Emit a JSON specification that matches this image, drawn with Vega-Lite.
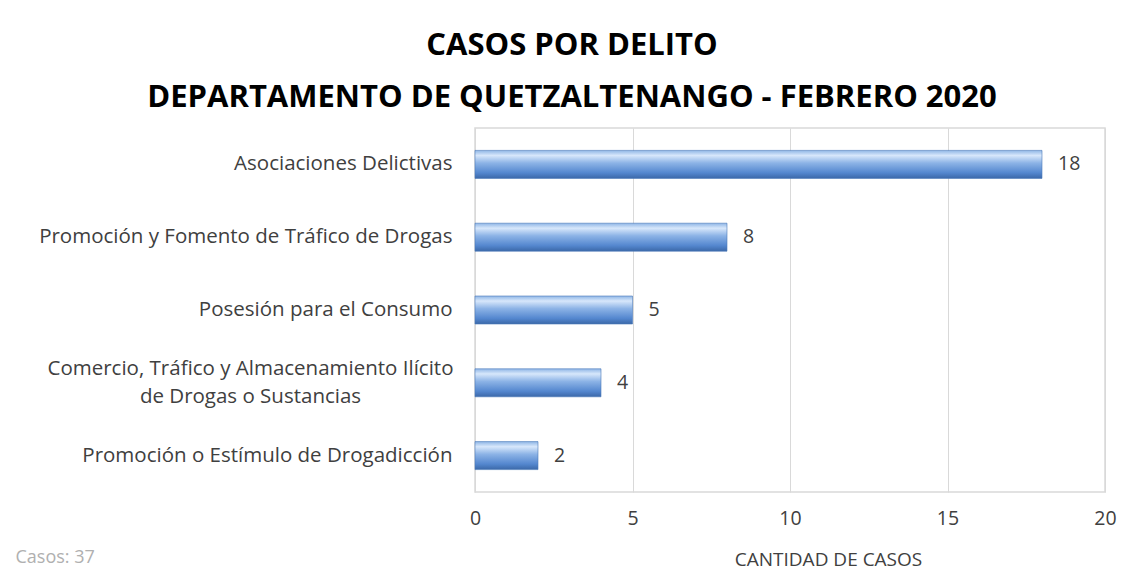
{
  "$schema": "https://vega.github.io/schema/vega-lite/v6.json",
  "autosize": {"type": "none"},
  "width": 630,
  "height": 364,
  "padding": {"left": 475, "top": 128, "right": 31, "bottom": 78},
  "background": "white",
  "title": {
    "text": ["CASOS POR DELITO", "DEPARTAMENTO  DE QUETZALTENANGO  - FEBRERO  2020"],
    "font": "Open Sans",
    "fontSize": 31,
    "fontWeight": "bold",
    "color": "#000000",
    "anchor": "middle",
    "frame": "group",
    "dx": -218,
    "lineHeight": 52,
    "offset": 14
  },
  "data": {
    "values": [
      {"delito": "Asociaciones Delictivas", "casos": 18},
      {"delito": "Promoción y Fomento de Tráfico de Drogas", "casos": 8},
      {"delito": "Posesión para el Consumo", "casos": 5},
      {"delito": "Comercio, Tráfico y Almacenamiento Ilícito de Drogas o Sustancias", "casos": 4},
      {"delito": "Promoción o Estímulo de Drogadicción", "casos": 2}
    ]
  },
  "encoding": {
    "y": {
      "field": "delito",
      "type": "nominal",
      "sort": null,
      "axis": {
        "title": "Casos: 37",
        "titleAngle": 0,
        "titleX": -460,
        "titleY": 429,
        "titleAlign": "left",
        "titleBaseline": "middle",
        "titleFont": "Open Sans",
        "titleFontSize": 18,
        "titleFontWeight": "normal",
        "titleColor": "#b0b0b0",
        "domain": false,
        "ticks": false,
        "labelFont": "Open Sans",
        "labelFontSize": 20.5,
        "labelColor": "#404040",
        "labelLimit": 600,
        "labelLineHeight": 28,
        "labelExpr": "datum.value == 'Comercio, Tráfico y Almacenamiento Ilícito de Drogas o Sustancias' ? ['Comercio, Tráfico y Almacenamiento Ilícito', 'de Drogas o Sustancias'] : datum.value",
        "labelAlign": {"condition": {"test": "datum.value == 'Comercio, Tráfico y Almacenamiento Ilícito de Drogas o Sustancias'", "value": "center"}, "value": "right"},
        "labelPadding": {"condition": {"test": "datum.value == 'Comercio, Tráfico y Almacenamiento Ilícito de Drogas o Sustancias'", "value": 225}, "value": 23},
        "labelOffset": {"condition": {"test": "datum.value == 'Comercio, Tráfico y Almacenamiento Ilícito de Drogas o Sustancias'", "value": -14}, "value": 0}
      }
    },
    "x": {
      "field": "casos",
      "type": "quantitative",
      "scale": {"domain": [0, 20]},
      "axis": {
        "values": [0, 5, 10, 15, 20],
        "title": "CANTIDAD DE CASOS",
        "titleX": 353,
        "titleY": 67,
        "titleAlign": "center",
        "titleBaseline": "middle",
        "titleFont": "Open Sans",
        "titleFontSize": 19,
        "titleFontWeight": "normal",
        "titleColor": "#404040",
        "domain": false,
        "ticks": false,
        "grid": true,
        "gridColor": "#d9d9d9",
        "gridWidth": 1,
        "labelFlush": false,
        "labelFont": "Open Sans",
        "labelFontSize": 19.5,
        "labelColor": "#404040",
        "labelPadding": 17
      }
    }
  },
  "layer": [
    {
      "mark": {
        "type": "bar",
        "size": 28,
        "color": {
          "gradient": "linear",
          "x1": 0, "y1": 0, "x2": 0, "y2": 1,
          "stops": [
            {"offset": 0, "color": "#8fb6e6"},
            {"offset": 0.18, "color": "#d7e7fb"},
            {"offset": 0.45, "color": "#8cb3e6"},
            {"offset": 0.8, "color": "#5487cf"},
            {"offset": 1, "color": "#3b68a8"}
          ]
        },
        "stroke": "#4a78b8",
        "strokeWidth": 0.6
      }
    },
    {
      "mark": {
        "type": "text",
        "align": "left",
        "baseline": "middle",
        "dx": 16,
        "font": "Open Sans",
        "fontSize": 19.5,
        "color": "#404040"
      },
      "encoding": {"text": {"field": "casos", "type": "quantitative"}}
    }
  ],
  "config": {
    "view": {"stroke": "#d9d9d9", "strokeWidth": 1.5}
  }
}
